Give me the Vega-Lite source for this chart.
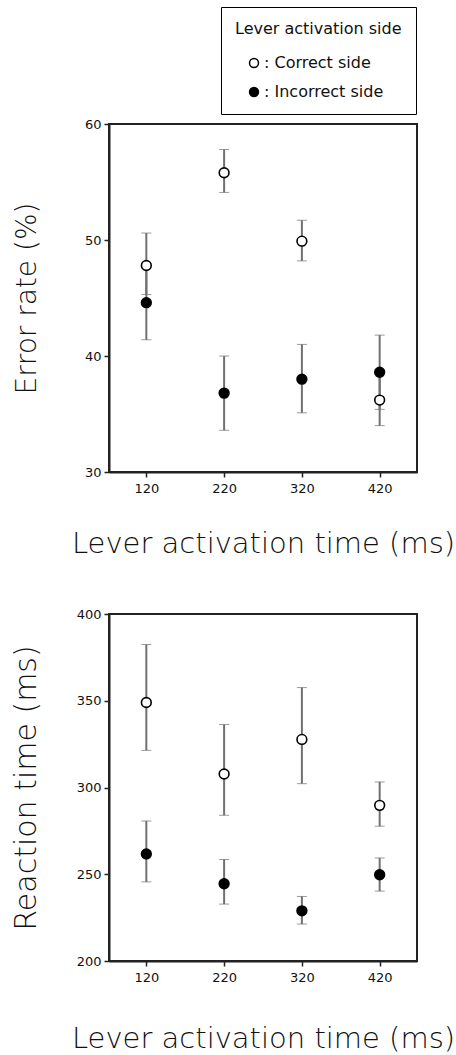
{
  "$schema": "https://vega.github.io/schema/vega-lite/v6.json",
  "padding": {"left": 10, "top": 5, "right": 5, "bottom": 0},
  "background": "white",
  "datasets": {
    "err": [
      {"t": 120, "side": "Correct side", "mean": 47.8, "lo": 45.3, "hi": 50.6},
      {"t": 120, "side": "Incorrect side", "mean": 44.6, "lo": 41.4, "hi": 47.8},
      {"t": 220, "side": "Correct side", "mean": 55.8, "lo": 54.1, "hi": 57.8},
      {"t": 220, "side": "Incorrect side", "mean": 36.8, "lo": 33.6, "hi": 40.0},
      {"t": 320, "side": "Correct side", "mean": 49.9, "lo": 48.2, "hi": 51.7},
      {"t": 320, "side": "Incorrect side", "mean": 38.0, "lo": 35.1, "hi": 41.0},
      {"t": 420, "side": "Correct side", "mean": 36.2, "lo": 34.0, "hi": 38.4},
      {"t": 420, "side": "Incorrect side", "mean": 38.6, "lo": 35.4, "hi": 41.8}
    ],
    "rt": [
      {"t": 120, "side": "Correct side", "mean": 349.0, "lo": 321.4, "hi": 382.4},
      {"t": 120, "side": "Incorrect side", "mean": 261.7, "lo": 245.6, "hi": 280.7},
      {"t": 220, "side": "Correct side", "mean": 307.8, "lo": 284.0, "hi": 336.3},
      {"t": 220, "side": "Incorrect side", "mean": 244.5, "lo": 232.8, "hi": 258.5},
      {"t": 320, "side": "Correct side", "mean": 327.7, "lo": 302.2, "hi": 357.6},
      {"t": 320, "side": "Incorrect side", "mean": 228.9, "lo": 221.3, "hi": 237.2},
      {"t": 420, "side": "Correct side", "mean": 289.7, "lo": 277.7, "hi": 303.2},
      {"t": 420, "side": "Incorrect side", "mean": 249.7, "lo": 240.3, "hi": 259.4}
    ]
  },
  "config": {
    "view": {"stroke": "#222222", "strokeWidth": 2},
    "axis": {
      "grid": false,
      "domainColor": "#222222",
      "domainWidth": 2,
      "tickColor": "#222222",
      "tickWidth": 1.5,
      "tickSize": 5,
      "labelFont": "DejaVu Sans",
      "labelFontSize": 13,
      "labelColor": "#111111",
      "titleFont": "DejaVu Sans",
      "titleFontWeight": 200,
      "titleFontSize": 29,
      "titleColor": "#111111"
    },
    "axisY": {"labelPadding": 3, "minExtent": 34, "maxExtent": 34, "titlePadding": 34},
    "axisX": {"labelPadding": 5, "titlePadding": 34}
  },
  "resolve": {"scale": {"fill": "independent"}, "legend": {"fill": "independent"}},
  "spacing": 48,
  "vconcat": [
    {
      "width": 308,
      "height": 348,
      "data": {"name": "err"},
      "layer": [
        {
          "mark": {"type": "errorbar", "ticks": {"size": 10, "color": "#707070", "strokeWidth": 2}, "rule": {"strokeWidth": 2, "color": "#707070"}},
          "encoding": {
            "x": {"field": "t", "type": "quantitative", "scale": {"domain": [72, 468], "nice": false, "zero": false}, "axis": {"values": [120, 220, 320, 420], "title": "Lever activation time (ms)"}},
            "y": {"field": "lo", "type": "quantitative", "scale": {"domain": [30, 60], "nice": false, "zero": false}, "axis": {"values": [30, 40, 50, 60], "title": "Error rate (%)", "titleFontSize": 28}},
            "y2": {"field": "hi"}
          }
        },
        {
          "mark": {"type": "point", "filled": true, "stroke": "black", "strokeWidth": 1.6, "size": 95, "opacity": 1},
          "encoding": {
            "x": {"field": "t", "type": "quantitative", "scale": {"domain": [72, 468], "nice": false, "zero": false}, "axis": {"values": [120, 220, 320, 420], "title": "Lever activation time (ms)"}},
            "y": {"field": "mean", "type": "quantitative", "scale": {"domain": [30, 60], "nice": false, "zero": false}, "axis": {"values": [30, 40, 50, 60], "title": "Error rate (%)", "titleFontSize": 28}},
            "fill": {
              "field": "side", "type": "nominal",
              "scale": {"domain": ["Correct side", "Incorrect side"], "range": ["white", "black"]},
              "legend": {
                "orient": "none", "legendX": 112, "legendY": -117,
                "title": "Lever activation side",
                "titleFont": "DejaVu Sans", "titleFontSize": 16, "titleFontWeight": "normal", "titleColor": "#111111",
                "titlePadding": 18,
                "labelFont": "DejaVu Sans", "labelFontSize": 16, "labelColor": "#111111",
                "labelExpr": "': ' + datum.label",
                "labelOffset": 2,
                "symbolType": "circle", "symbolSize": 80, "symbolStrokeColor": "black", "symbolStrokeWidth": 1.5,
                "symbolOffset": 11,
                "rowPadding": 13,
                "padding": 14,
                "strokeColor": "black"
              }
            }
          }
        }
      ]
    },
    {
      "width": 308,
      "height": 347,
      "data": {"name": "rt"},
      "layer": [
        {
          "mark": {"type": "errorbar", "ticks": {"size": 10, "color": "#707070", "strokeWidth": 2}, "rule": {"strokeWidth": 2, "color": "#707070"}},
          "encoding": {
            "x": {"field": "t", "type": "quantitative", "scale": {"domain": [72, 468], "nice": false, "zero": false}, "axis": {"values": [120, 220, 320, 420], "title": "Lever activation time (ms)", "titlePadding": 40}},
            "y": {"field": "lo", "type": "quantitative", "scale": {"domain": [200, 400], "nice": false, "zero": false}, "axis": {"values": [200, 250, 300, 350, 400], "title": "Reaction time (ms)", "titleFontSize": 30}},
            "y2": {"field": "hi"}
          }
        },
        {
          "mark": {"type": "point", "filled": true, "stroke": "black", "strokeWidth": 1.6, "size": 95, "opacity": 1},
          "encoding": {
            "x": {"field": "t", "type": "quantitative", "scale": {"domain": [72, 468], "nice": false, "zero": false}, "axis": {"values": [120, 220, 320, 420], "title": "Lever activation time (ms)", "titlePadding": 40}},
            "y": {"field": "mean", "type": "quantitative", "scale": {"domain": [200, 400], "nice": false, "zero": false}, "axis": {"values": [200, 250, 300, 350, 400], "title": "Reaction time (ms)", "titleFontSize": 30}},
            "fill": {
              "field": "side", "type": "nominal",
              "scale": {"domain": ["Correct side", "Incorrect side"], "range": ["white", "black"]},
              "legend": null
            }
          }
        }
      ]
    }
  ]
}
